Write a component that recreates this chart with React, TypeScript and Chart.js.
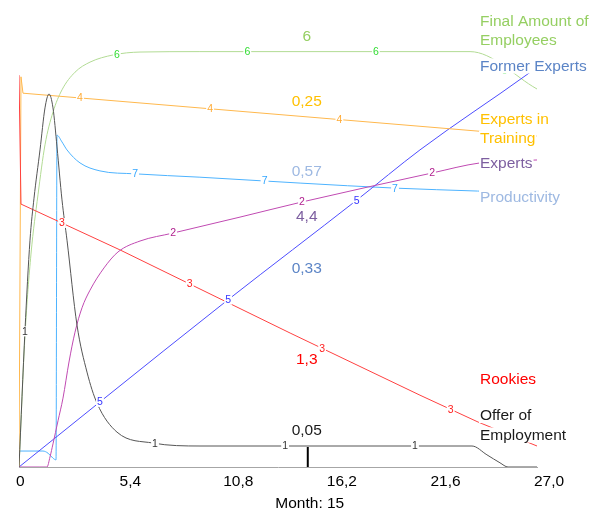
import React, { useEffect, useRef } from "react";
import { Chart, registerables } from "chart.js";

Chart.register(...registerables);

// ---------------- data ----------------
const tickValues = [0, 5.4, 10.8, 16.2, 21.6, 27];
const tickLabels = ["0", "5,4", "10,8", "16,2", "21,6", "27,0"];
const currentMonth = 15;
const axisTitle = "Month: 15";

// values are read as percent of each variable's own (hidden) scale
const offerMonths = [0, 0.313, 0.573, 0.782, 1.095, 1.355, 1.564, 1.772, 1.981, 2.241, 2.502, 3.023, 3.544, 4.066, 5.108, 6.985, 9.434, 23.61, 24.39, 25.07, 25.49, 27];
const offerValues = [0, 32.6, 54.0, 64.0, 75.5, 85.5, 88.8, 85.5, 76.2, 63.6, 54.0, 33.8, 22.6, 15.2, 8.3, 5.7, 5.0, 5.0, 2.9, 1.0, 0, 0];
const offerMarkers = [0.31, 7.09, 13.87, 20.64];

const expertsMonths = [0, 1.09, 1.459, 1.616, 1.772, 2.033, 2.293, 2.606, 2.919, 3.284, 3.701, 4.431, 5.16, 6.307, 8.027, 11.52, 14.75, 21.53, 24.03, 27];
const expertsValues = [0, 0, 0, 2.4, 5.5, 11.0, 16.4, 25.0, 32.1, 37.9, 42.1, 47.4, 51.2, 53.8, 55.7, 59.5, 63.1, 70.0, 72.4, 73.1];
const expertsMarkers = [8.03, 14.75, 21.53];

const rookiesMonths = [0, 0.104, 5.26, 14.13, 20.9, 23.93, 27];
const rookiesValues = [93.3, 62.6, 51.7, 31.9, 17.1, 10.7, 5.0];
const rookiesMarkers = [2.24, 8.9, 15.8, 22.5];

const trainingMonths = [0, 0.104, 0.208, 27];
const trainingValues = [0, 92.9, 89.0, 78.8];
const trainingMarkers = [3.18, 9.96, 16.7];

const formerMonths = [0, 4.22, 10.89, 17.62, 20.9, 26.53, 27];
const formerValues = [0, 15.5, 39.8, 63.6, 75.5, 93.6, 95.2];
const formerMarkers = [4.22, 10.9, 17.6];

const finalMonths = [0, 0.313, 0.625, 0.99, 1.355, 1.772, 2.241, 2.919, 3.701, 4.9, 6.307, 9.43, 23.51, 27];
const finalValues = [0, 31.4, 50.7, 64.8, 76.7, 84.5, 89.8, 94.0, 96.4, 98.1, 98.8, 98.9, 98.9, 90.0];
const finalMarkers = [5.1, 11.9, 18.6, 25.3];

const prodMonths = [0, 1.25, 1.51, 1.77, 1.93, 1.98, 2.24, 2.5, 3.18, 4.22, 6.05, 9.43, 14.65, 19.6, 23.9, 27];
const prodValues = [3.8, 3.8, 3.3, 2.1, 1.7, 79.0, 77.4, 75.5, 72.4, 70.5, 69.8, 69.0, 67.6, 66.4, 65.7, 65.2];
const prodMarkers = [6.05, 12.8, 19.6];

const seriesKeys = ["1", "2", "3", "4", "5", "6", "7"];
const seriesNames = ["Offer of Employment", "Experts", "Rookies", "Experts in Training", "Former Experts", "Final Amount of Employees", "Productivity"];
const legendLines = [["Offer of", "Employment"], ["Experts"], ["Rookies"], ["Experts in", "Training"], ["Former Experts"], ["Final Amount of", "Employees"], ["Productivity"]];
const currentValues = ["0,05", "4,4", "1,3", "0,25", "0,33", "6", "0,57"];

const seriesMonths = [offerMonths, expertsMonths, rookiesMonths, trainingMonths, formerMonths, finalMonths, prodMonths];
const seriesValues = [offerValues, expertsValues, rookiesValues, trainingValues, formerValues, finalValues, prodValues];
const seriesMarkers = [offerMarkers, expertsMarkers, rookiesMarkers, trainingMarkers, formerMarkers, finalMarkers, prodMarkers];

// ---------------- styles / layout ----------------
const FONT = '"Liberation Sans", Arial, sans-serif';
const STYLE = [
  { line: "#555555", marker: "#333333", text: "#1a1a1a", smooth: true, valueDy: -17, legendBase: [420, 439.5] },
  { line: "#c04ab2", marker: "#b0208f", text: "#7d5fa0", smooth: true, valueDy: 14.5, legendBase: [168] },
  { line: "#ff4040", marker: "#ff2020", text: "#ff0000", smooth: false, valueDy: 17.5, legendBase: [384] },
  { line: "#ffb84d", marker: "#ffaa33", text: "#ffc000", smooth: false, valueDy: -16, legendBase: [123.5, 142.5] },
  { line: "#4d4dff", marker: "#3333ff", text: "#5b84c6", smooth: true, valueDy: 29, legendBase: [70.5] },
  { line: "#b2db94", marker: "#33dd33", text: "#95cf62", smooth: true, valueDy: -16, legendBase: [26, 44.5] },
  { line: "#4db3ff", marker: "#33a6ff", text: "#9eb9e2", smooth: true, valueDy: -12.5, legendBase: [201.5] },
];
const TEXT_SIZE = 15.5;
const LEGEND_X = 480;

function interp(xs: number[], ys: number[], t: number): number {
  for (let i = 0; i < xs.length - 1; i++) {
    if (t <= xs[i + 1]) {
      const f = (t - xs[i]) / (xs[i + 1] - xs[i] || 1);
      return ys[i] + (ys[i + 1] - ys[i]) * f;
    }
  }
  return ys[ys.length - 1];
}

const overlayPlugin = {
  id: "vensimOverlay",
  afterDraw(chart: any) {
    const { ctx, chartArea } = chart;
    const xs = chart.scales.x;
    const ys = chart.scales.y;
    ctx.save();

    // line number markers
    ctx.font = `10.5px ${FONT}`;
    ctx.textAlign = "center";
    ctx.textBaseline = "middle";
    seriesKeys.forEach((key, i) => {
      seriesMarkers[i].forEach((m) => {
        const v = interp(seriesMonths[i], seriesValues[i], m);
        const px = xs.getPixelForValue(m);
        const py = ys.getPixelForValue(v);
        const w = ctx.measureText(key).width;
        ctx.fillStyle = "#ffffff";
        ctx.fillRect(px - w / 2 - 1, py - 5, w + 2, 10);
        ctx.fillStyle = STYLE[i].marker;
        ctx.fillText(key, px, py + 0.5);
      });
    });

    // current values at the time marker
    const cx = xs.getPixelForValue(currentMonth);
    ctx.font = `${TEXT_SIZE}px ${FONT}`;
    ctx.textAlign = "center";
    ctx.textBaseline = "alphabetic";
    currentValues.forEach((txt, i) => {
      const v = interp(seriesMonths[i], seriesValues[i], currentMonth);
      const py = ys.getPixelForValue(v) + STYLE[i].valueDy + 0.358 * TEXT_SIZE;
      ctx.fillStyle = STYLE[i].text;
      ctx.fillText(txt, cx, py);
    });

    // time marker
    ctx.strokeStyle = "#000000";
    ctx.lineWidth = 2;
    ctx.beginPath();
    ctx.moveTo(cx + 1, chartArea.bottom - 20);
    ctx.lineTo(cx + 1, chartArea.bottom);
    ctx.stroke();

    // right-hand labels with white boxes
    ctx.textAlign = "left";
    legendLines.forEach((lines, i) => {
      lines.forEach((ln, j) => {
        const base = STYLE[i].legendBase[j];
        const w = ctx.measureText(ln).width;
        ctx.fillStyle = "#ffffff";
        ctx.fillRect(LEGEND_X - 1, base - 0.78 * TEXT_SIZE, w + 2, 0.98 * TEXT_SIZE);
        ctx.fillStyle = STYLE[i].text;
        ctx.fillText(ln, LEGEND_X, base);
      });
    });

    // axis title
    ctx.textAlign = "center";
    ctx.fillStyle = "#000000";
    ctx.fillText(axisTitle, cx + 3, 502.5 + 0.358 * TEXT_SIZE);
    ctx.restore();
  },
};

export default function App() {
  const ref = useRef<HTMLCanvasElement>(null);
  useEffect(() => {
    document.body.style.margin = "0";
    const chart = new Chart(ref.current as HTMLCanvasElement, {
      type: "line",
      data: {
        datasets: seriesNames.map((name, i) => ({
          label: name,
          data: seriesMonths[i].map((m, j) => ({ x: m, y: seriesValues[i][j] })),
          borderColor: STYLE[i].line,
          backgroundColor: STYLE[i].line,
          borderWidth: 1,
          pointRadius: 0,
          fill: false,
          tension: 0,
          cubicInterpolationMode: STYLE[i].smooth ? "monotone" : "default",
        })),
      },
      options: {
        animation: false,
        responsive: true,
        maintainAspectRatio: false,
        layout: { padding: { left: 19, right: 53, top: 47, bottom: 0 } },
        plugins: { legend: { display: false }, tooltip: { enabled: false } },
        scales: {
          x: {
            type: "linear",
            min: 0,
            max: 27,
            afterBuildTicks: (sc: any) => {
              sc.ticks = tickValues.map((v) => ({ value: v }));
            },
            afterFit: (sc: any) => {
              sc.height = 44;
            },
            grid: { display: false, drawTicks: false },
            border: { display: true, color: "#a6a6a6", width: 1 },
            ticks: {
              autoSkip: false,
              maxRotation: 0,
              align: "start",
              labelOffset: -3,
              padding: 5,
              color: "#000000",
              font: { size: TEXT_SIZE, family: FONT },
              callback: (_v: any, i: number) => tickLabels[i],
            },
          },
          y: { display: false, min: 0, max: 100 },
        },
      } as any,
      plugins: [overlayPlugin],
    });
    return () => chart.destroy();
  }, []);
  return (
    <div style={{ width: 590, height: 511, position: "relative" }}>
      <canvas ref={ref} />
    </div>
  );
}
